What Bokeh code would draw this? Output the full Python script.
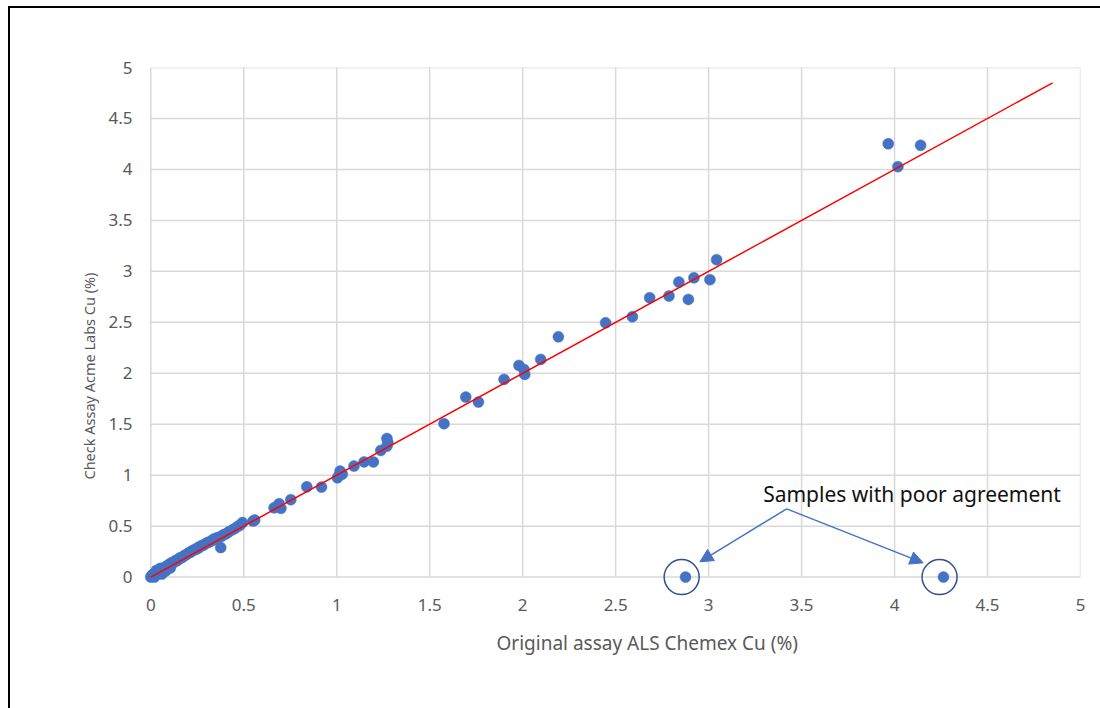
import math
from bokeh.plotting import figure
from bokeh.models import (Range1d, FixedTicker, Label, Arrow, NormalHead,
                          ColumnDataSource, Title)
from bokeh.embed import file_html
from bokeh.resources import INLINE

# ---------------- data ----------------
original_als = [
    0.000, 0.005, 0.010, 0.015, 0.020, 0.025, 0.030, 0.035, 0.045, 0.050,
    0.060, 0.065, 0.075, 0.085, 0.090, 0.100, 0.110, 0.115, 0.125, 0.135,
    0.140, 0.150, 0.160, 0.170, 0.180, 0.185, 0.195, 0.205, 0.215, 0.220,
    0.230, 0.240, 0.250, 0.260, 0.265, 0.275, 0.285, 0.300, 0.310, 0.320,
    0.330, 0.345, 0.355, 0.365, 0.380, 0.390, 0.405, 0.420, 0.440, 0.455,
    0.470, 0.020, 0.060, 0.080, 0.105, 0.030, 0.050, 0.155, 0.250, 0.340,
    0.376, 0.480, 0.493, 0.550, 0.559, 0.663, 0.690, 0.700, 0.753, 0.839,
    0.918, 1.004, 1.013, 1.018, 1.030, 1.093, 1.147, 1.197, 1.237, 1.270,
    1.275, 1.270, 1.577, 1.694, 1.762, 1.900, 1.980, 2.007, 2.011, 2.097,
    2.192, 2.446, 2.590, 2.683, 2.787, 2.840, 2.891, 2.921, 3.007, 3.043,
    3.966, 4.140, 4.018, 2.876, 4.263,
]
check_acme = [
    0.000, 0.015, 0.025, 0.010, 0.035, 0.020, 0.045, 0.060, 0.050, 0.070,
    0.085, 0.080, 0.095, 0.105, 0.115, 0.125, 0.140, 0.130, 0.150, 0.165,
    0.160, 0.175, 0.190, 0.195, 0.210, 0.215, 0.225, 0.240, 0.245, 0.255,
    0.265, 0.270, 0.285, 0.290, 0.300, 0.310, 0.315, 0.335, 0.340, 0.350,
    0.360, 0.370, 0.385, 0.390, 0.400, 0.415, 0.425, 0.445, 0.465, 0.480,
    0.500, 0.000, 0.030, 0.060, 0.090, 0.065, 0.085, 0.185, 0.280, 0.375,
    0.290, 0.510, 0.535, 0.550, 0.560, 0.680, 0.720, 0.675, 0.760, 0.886,
    0.883, 0.975, 1.000, 1.040, 1.010, 1.090, 1.130, 1.130, 1.243, 1.285,
    1.320, 1.360, 1.505, 1.766, 1.717, 1.940, 2.077, 2.038, 1.989, 2.136,
    2.358, 2.495, 2.555, 2.741, 2.758, 2.895, 2.725, 2.937, 2.918, 3.114,
    4.252, 4.237, 4.027, 0.000, 0.000,
]

# 1:1 reference line
line_x = [0.0, 4.85]
line_y = [0.0, 4.85]

# outliers (samples with poor agreement) highlighted with rings
ring_x = [2.855, 4.242]
ring_y = [0.0, 0.0]

x_ticks = [0, 0.5, 1, 1.5, 2, 2.5, 3, 3.5, 4, 4.5, 5]
y_ticks = [0, 0.5, 1, 1.5, 2, 2.5, 3, 3.5, 4, 4.5, 5]
tick_labels = {0: "0", 0.5: "0.5", 1: "1", 1.5: "1.5", 2: "2", 2.5: "2.5",
               3: "3", 3.5: "3.5", 4: "4", 4.5: "4.5", 5: "5"}

annotation_text = "Samples with poor agreement"
x_title = "Original assay ALS Chemex Cu (%)"
y_title = "Check Assay Acme Labs Cu (%)"

# ---------------- figure ----------------
FONT = "Noto Sans"
GRAY = "#595959"

p = figure(frame_width=939, frame_height=530,
           min_border_left=131, min_border_right=20,
           min_border_top=59, min_border_bottom=111,
           x_range=Range1d(-0.05, 5.0), y_range=Range1d(-0.2, 5.0),
           output_backend="svg", toolbar_location=None,
           background_fill_color="white", border_fill_color="white")
p.styles = {"margin-left": "8px", "margin-top": "6px",
            "border-left": "2px solid #000", "border-top": "2px solid #000"}
p.outline_line_color = None
p.xgrid.visible = False
p.ygrid.visible = False

for ax, ticks in ((p.xaxis, x_ticks), (p.yaxis, y_ticks)):
    ax.ticker = FixedTicker(ticks=ticks)
    ax.major_label_overrides = {t: tick_labels[t] for t in ticks}
    ax.axis_line_color = None
    ax.major_tick_line_color = None
    ax.minor_tick_line_color = None
    ax.major_tick_in = 0
    ax.major_tick_out = 0
    ax.major_label_text_font = FONT
    ax.major_label_text_font_size = "17px"
    ax.major_label_text_color = GRAY
p.yaxis.major_label_standoff = 9
p.xaxis.major_label_standoff = 1

# axis titles (placed off-centre as in the original)
p.add_layout(Title(text=x_title, align="left", offset=355, standoff=29,
                   text_font=FONT, text_font_size="19px",
                   text_font_style="normal", text_color=GRAY), "below")
p.add_layout(Title(text=y_title, align="left", offset=118, standoff=13,
                   text_font=FONT, text_font_size="14.5px",
                   text_font_style="normal", text_color=GRAY), "left")

# gridlines spanning only the 0..5 square
p.segment(x0=x_ticks, y0=[0] * len(x_ticks), x1=x_ticks, y1=[5] * len(x_ticks),
          line_color="#d9d9d9", line_width=1.5)
p.segment(x0=[0] * len(y_ticks), y0=y_ticks, x1=[5] * len(y_ticks), y1=y_ticks,
          line_color="#d9d9d9", line_width=1.5)

src = ColumnDataSource(data=dict(x=original_als, y=check_acme))
p.scatter("x", "y", source=src, size=11, fill_color="#4472C4",
          line_color="#4472C4", line_width=0.5)

p.line(line_x, line_y, line_color="#FF0000", line_width=1.5)

p.scatter(ring_x, ring_y, size=35, fill_color=None, line_color="#2F528F",
          line_width=1.5)

# arrows to the poor-agreement samples
for xe, ye in ((2.953, 0.150), (4.154, 0.140)):
    p.add_layout(Arrow(end=NormalHead(size=13, fill_color="#4472C4",
                                      line_color="#4472C4"),
                       x_start=3.42, y_start=0.67, x_end=xe, y_end=ye,
                       line_color="#4472C4", line_width=1.5))

p.add_layout(Label(x=4.094, y=0.815, text=annotation_text,
                   text_font=FONT, text_font_size="21px", text_color="#111111",
                   text_align="center", text_baseline="middle"))

open("out.html", "w").write(file_html(p, INLINE))
